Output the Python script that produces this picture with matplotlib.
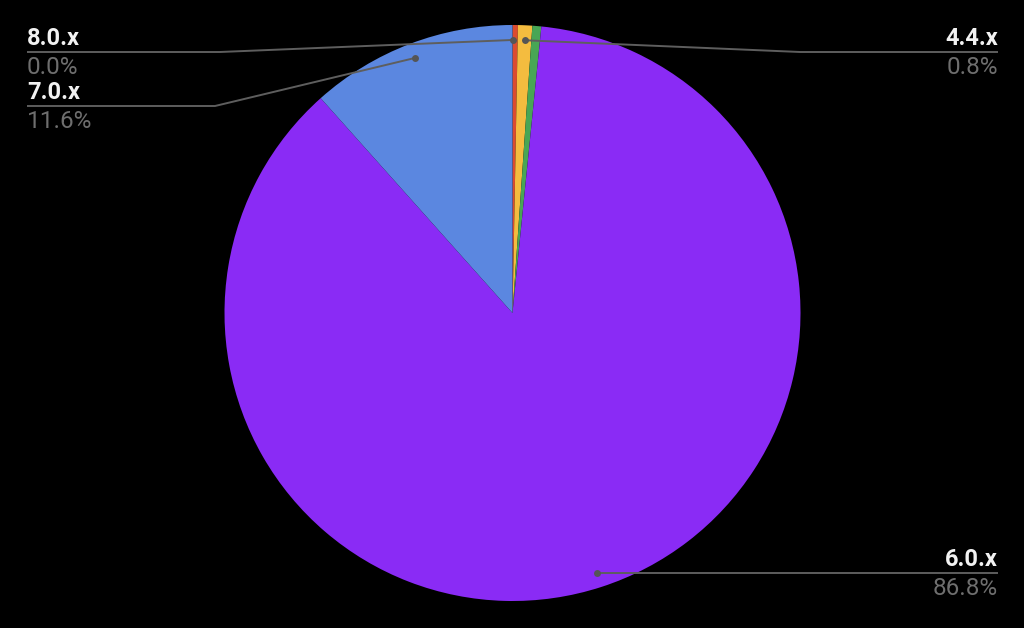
import matplotlib
matplotlib.use("Agg")
import matplotlib.pyplot as plt
import numpy as np

# ---- data ----
versions = ["8.0.x", "other_a", "4.4.x", "other_b", "6.0.x", "7.0.x"]
shares = [0.0, 0.3, 0.8, 0.5, 86.8, 11.6]
colors = ["#DB4B30", "#DB4B30", "#F4BC3F", "#48A655", "#8A2BF5", "#5B87E0"]
labeled = ["8.0.x", "4.4.x", "7.0.x", "6.0.x"]
pct_text = {"8.0.x": "0.0%", "4.4.x": "0.8%", "7.0.x": "11.6%", "6.0.x": "86.8%"}

W, H = 1024, 628
fig = plt.figure(figsize=(W / 100, H / 100), dpi=100, facecolor="black")
ax = fig.add_axes([0, 0, 1, 1])
ax.set_facecolor("black")

cx, cy, R = 512.5, H - 313, 288
wedges, _ = ax.pie(shares, colors=colors, startangle=90, counterclock=False,
                   center=(cx, cy), radius=R, frame=True,
                   wedgeprops=dict(linewidth=0))
ax.set_xlim(0, W)
ax.set_ylim(0, H)
ax.set_aspect("equal")
ax.axis("off")

def dot_pos(w):
    mid = np.deg2rad((w.theta1 + w.theta2) / 2)
    r = 0.948 * R
    return cx + r * np.cos(mid), cy + r * np.sin(mid)

line_col = "#5e5e5e"
name_col = "#f2f2f2"
pct_col = "#6e6e6e"
font = ["Roboto", "DejaVu Sans"]

# label layout: (side, line y in px from top, elbow x)
layout = {
    "8.0.x": ("left", 52, 220),
    "7.0.x": ("left", 106, 215),
    "4.4.x": ("right", 52, 800),
    "6.0.x": ("right", None, None),
}

for name in labeled:
    w = wedges[versions.index(name)]
    dx, dy = dot_pos(w)
    side, ly, ex = layout[name]
    if ly is None:
        ly_d = dy
        ex = dx
    else:
        ly_d = H - ly
    if side == "left":
        xs = [dx, ex, 27]
        tx, ha = 27, "left"
    else:
        xs = [dx, ex, 998]
        tx, ha = 998, "right"
    ax.plot(xs, [dy, ly_d, ly_d], color=line_col, lw=1.4, solid_capstyle="butt", zorder=5)
    ax.plot([dx], [dy], "o", color="#555555", ms=5, mec="none", zorder=6)
    ax.text(tx, ly_d + 7, name, ha=ha, va="baseline", color=name_col,
            fontsize=17, fontweight="bold", family=font, zorder=7)
    ax.text(tx, ly_d - 22, pct_text[name], ha=ha, va="baseline", color=pct_col,
            fontsize=17.5, family=font, zorder=7)

fig.savefig("out.png", dpi=100, facecolor="black")
